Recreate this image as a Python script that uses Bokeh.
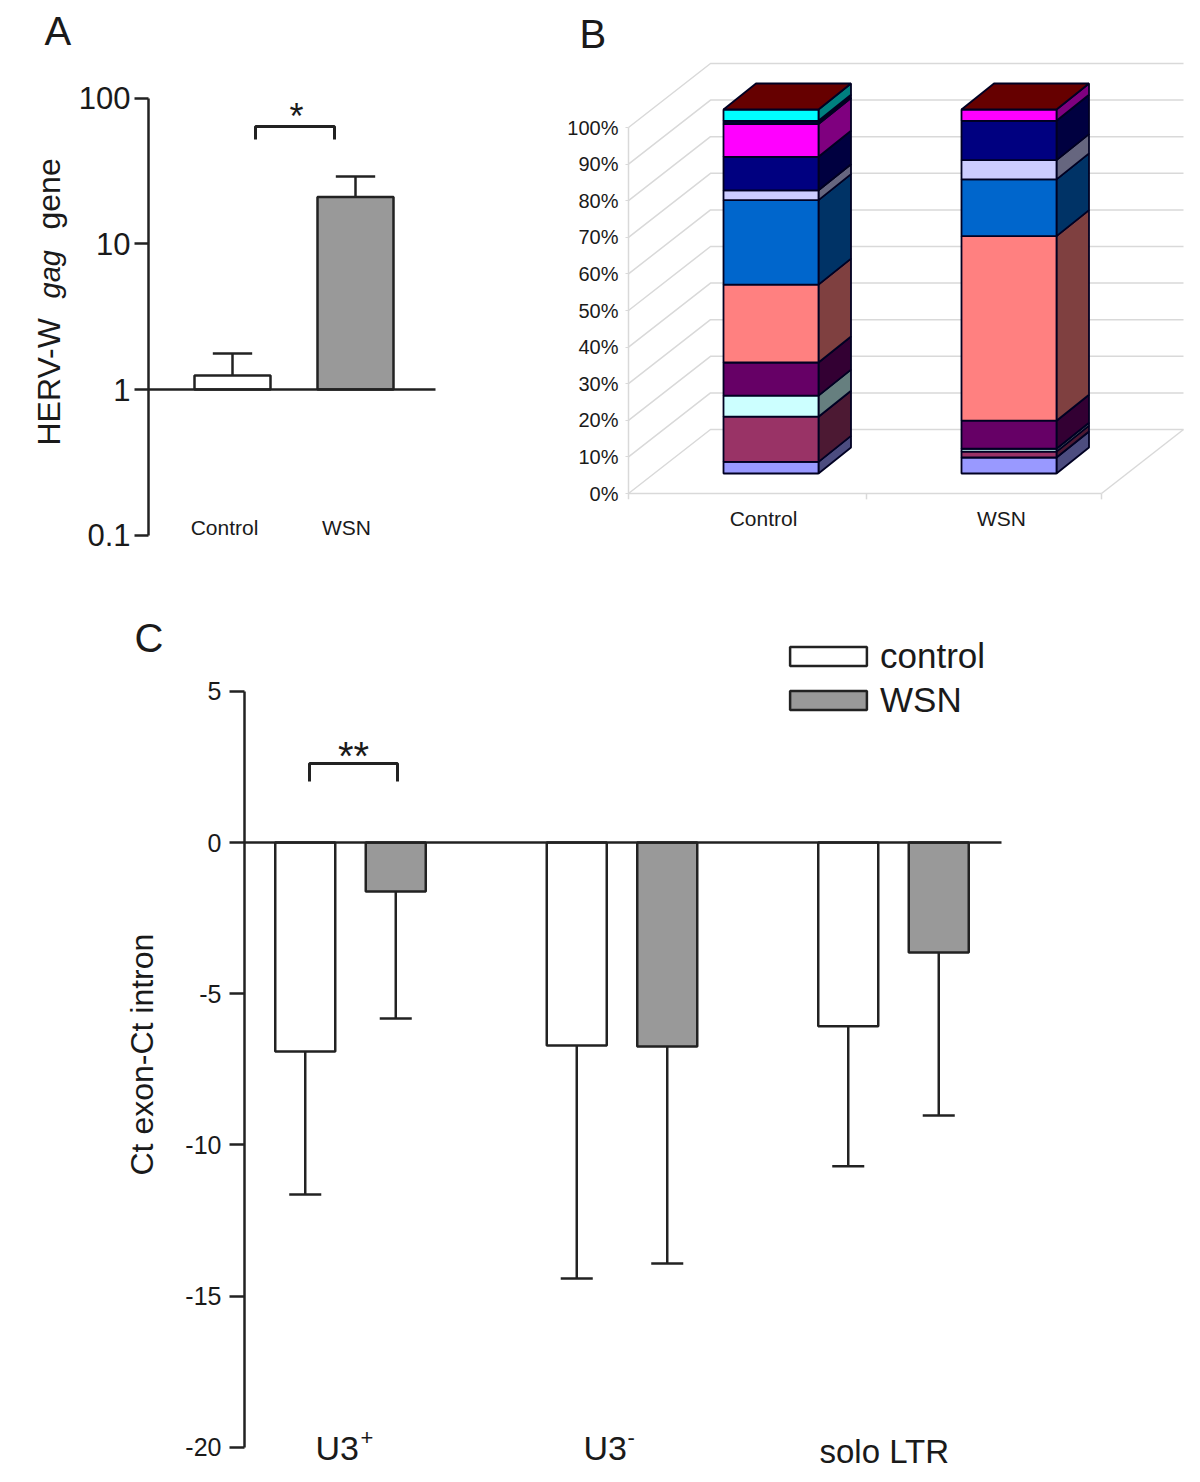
from bokeh.plotting import figure
from bokeh.layouts import column, row
from bokeh.models import FixedTicker, Legend, LegendItem, LinearAxis, LogAxis, Range1d
from bokeh.core.properties import value
from bokeh.embed import file_html
from bokeh.resources import INLINE
import math

FONT = "Liberation Sans"
INK = "#222222"

# ---------- data ----------
a_categories = ["Control", "WSN"]
a_means = [1.25, 21.0]
a_upper = [1.77, 29.0]
a_ticks = [0.1, 1, 10, 100]

b_categories = ["Control", "WSN"]
b_colors = ["#9999ff", "#993366", "#ccffff", "#660066", "#ff8080", "#0066cc",
            "#ccccff", "#000080", "#ff00ff", "#000033", "#00ffff"]
b_control = [3.2, 12.4, 5.8, 9.1, 21.4, 23.2, 2.7, 9.2, 9.0, 0.9, 3.1]
b_wsn = [4.4, 1.6, 0.8, 7.7, 50.7, 15.6, 5.3, 10.8, 3.1, 0.0, 0.0]
b_ticks = [0, 10, 20, 30, 40, 50, 60, 70, 80, 90, 100]

c_groups = ["U3", "U3", "solo LTR"]
c_control = [-6.91, -6.71, -6.08]
c_wsn = [-1.62, -6.75, -3.64]
c_control_low = [-11.64, -14.42, -10.71]
c_wsn_low = [-5.82, -13.92, -9.03]
c_ticks = [5, 0, -5, -10, -15, -20]


def base_fig(w, h, xr, yr, **kw):
    p = figure(width=w, height=h, x_range=xr, y_range=yr, output_backend="svg",
               toolbar_location=None, x_axis_location=None, y_axis_location=None,
               min_border=0, min_border_left=0, min_border_right=0,
               min_border_top=0, min_border_bottom=0, outline_line_color=None,
               background_fill_color="white", border_fill_color="white", **kw)
    p.xgrid.visible = False
    p.ygrid.visible = False
    return p


def txt(p, x, y, s, size, align="left", baseline="middle", angle=0, style="normal", color="#1a1a1a"):
    p.text([x], [y], text=[s], text_font=value(FONT), text_font_size=f"{size}px",
           text_align=align, text_baseline=baseline, angle=angle,
           text_font_style=style, text_color=color)


# ---------- Panel A ----------
ax = lambda px: (px - 232) / 123
ay = lambda py: 10 ** ((389 - py) / 145.67)
pa = base_fig(560, 560, Range1d(ax(0), ax(560)), Range1d(ay(560), ay(0)), y_axis_type="log")
axis_a = LogAxis(fixed_location=ax(148), bounds=(0.1, 100), ticker=FixedTicker(ticks=a_ticks),
                 major_label_overrides={0.1: "0.1", 1: "1", 10: "10", 100: "100"},
                 axis_line_color=INK, axis_line_width=2.5,
                 major_tick_line_color=INK, major_tick_line_width=2.5,
                 major_tick_out=14, major_tick_in=0, minor_tick_line_color=None,
                 major_label_standoff=4, major_label_text_font=FONT,
                 major_label_text_font_size="31px", major_label_text_color="#1a1a1a")
pa.add_layout(axis_a, "left")
idx_a = list(range(len(a_categories)))
pa.vbar(x=idx_a, width=76 / 123, bottom=1, top=a_means, fill_color=["white", "#999999"],
        line_color=INK, line_width=2.5)
pa.segment(x0=idx_a, x1=idx_a, y0=a_means, y1=a_upper, line_color=INK, line_width=2.5)
pa.segment(x0=[i - 0.16 for i in idx_a], x1=[i + 0.16 for i in idx_a], y0=a_upper, y1=a_upper,
           line_color=INK, line_width=2.5)
pa.line([ax(148), ax(435)], [1, 1], line_color=INK, line_width=2.5)
pa.line([ax(255), ax(255), ax(334), ax(334)], [ay(139), ay(126), ay(126), ay(139)],
        line_color=INK, line_width=3)
txt(pa, ax(296), ay(116), "*", 36, "center", "alphabetic")
for c, px in zip(a_categories, [224, 346]):
    txt(pa, ax(px), ay(527), c, 21, "center")
txt(pa, ax(44), ay(30), "A", 40, "left", "alphabetic")
txt(pa, ax(48), ay(445), "HERV-W", 32, "left", "alphabetic", math.pi / 2)
txt(pa, ax(49), ay(298), "gag", 29, "left", "alphabetic", math.pi / 2, "italic")
txt(pa, ax(48), ay(229), "gene", 32, "left", "alphabetic", math.pi / 2)

# ---------- Panel B ----------
bx = lambda px: (px - 770.5) / 238
by = lambda py: (493 - py) / 3.66
pb = base_fig(630, 560, Range1d(bx(560), bx(1190)), Range1d(by(560), by(0)))
GRID = "#d9d9d9"
wall_dx, wall_dy = bx(710) - bx(628), 64 / 3.66
left = bx(628)
far = bx(1183)
floor_end = bx(1101)
pb.multi_line(xs=[[left, left + wall_dx, far] for _ in b_ticks],
              ys=[[t, t + wall_dy, t + wall_dy] for t in b_ticks],
              line_color=GRID, line_width=1.5)
pb.line([floor_end, far], [0, wall_dy], line_color=GRID, line_width=1.5)
pb.line([left, floor_end], [0, 0], line_color=GRID, line_width=1.5)
tick_x = [left, bx(866), floor_end]
pb.segment(x0=tick_x, x1=tick_x, y0=[0, 0, 0], y1=[-1.6, -1.6, -1.6], line_color=GRID, line_width=1.5)
axis_by = LinearAxis(fixed_location=left, bounds=(0, 100), ticker=FixedTicker(ticks=b_ticks),
                     major_label_overrides={t: f"{t}%" for t in b_ticks},
                     axis_line_color=GRID, axis_line_width=1.5, major_tick_line_color=GRID,
                     major_tick_out=3, major_tick_in=0, minor_tick_line_color=None,
                     major_label_standoff=7, major_label_text_font=FONT,
                     major_label_text_font_size="20px", major_label_text_color="#1a1a1a")
pb.add_layout(axis_by, "left")


def darker(h):
    return "#" + "".join(f"{int(h[i:i+2], 16) // 2:02x}" for i in (1, 3, 5))


bar_w = 95 / 238
dep_x = 32.5 / 238
dep_y = 26 / 3.66
base = (493 - 473) / 3.66
scale = 364 / 366
for slot, vals in enumerate([b_control, b_wsn]):
    x0, x1 = slot - bar_w / 2, slot + bar_w / 2
    y = base
    fxs, fys, fcs = [], [], []
    for v, col in zip(vals, b_colors):
        if v <= 0:
            continue
        y2 = y + v * scale
        fxs += [[x1, x1 + dep_x, x1 + dep_x, x1], [x0, x1, x1, x0]]
        fys += [[y, y + dep_y, y2 + dep_y, y2], [y, y, y2, y2]]
        fcs += [darker(col), col]
        y = y2
    fxs.append([x0, x1, x1 + dep_x, x0 + dep_x])
    fys.append([y, y, y + dep_y, y + dep_y])
    fcs.append("#660000")
    pb.patches(xs=fxs, ys=fys, fill_color=fcs, line_color="#000022", line_width=1.8)
    txt(pb, [bx(763), bx(1001)][slot], by(518), b_categories[slot], 21, "center")
txt(pb, bx(579), by(33), "B", 40, "left", "alphabetic")

# ---------- Panel C ----------
cx = lambda px: (px - 350) / 271.5
cy = lambda py: (842 - py) / 30.24
pc = base_fig(1190, 920, Range1d(cx(0), cx(1190)), Range1d(cy(1480), cy(560)))
axis_c = LinearAxis(fixed_location=cx(244), bounds=(-20, 5), ticker=FixedTicker(ticks=c_ticks),
                    major_label_overrides={t: str(t) for t in c_ticks},
                    axis_line_color=INK, axis_line_width=2.5, major_tick_line_color=INK,
                    major_tick_line_width=2.5, major_tick_out=15, major_tick_in=0,
                    minor_tick_line_color=None, major_label_standoff=8,
                    major_label_text_font=FONT, major_label_text_font_size="25px",
                    major_label_text_color="#1a1a1a")
pc.add_layout(axis_c, "left")
off = 45.25 / 271.5
xc = [i - off for i in range(3)]
xw = [i + off for i in range(3)]
bw = 60 / 271.5
r_c = pc.vbar(x=xc, width=bw, bottom=0, top=c_control, fill_color="white", line_color=INK, line_width=2.5)
r_w = pc.vbar(x=xw, width=bw, bottom=0, top=c_wsn, fill_color="#999999", line_color=INK, line_width=2.5)
for xs, tops, lows in [(xc, c_control, c_control_low), (xw, c_wsn, c_wsn_low)]:
    pc.segment(x0=xs, x1=xs, y0=tops, y1=lows, line_color=INK, line_width=2.5)
    pc.segment(x0=[x - 0.059 for x in xs], x1=[x + 0.059 for x in xs], y0=lows, y1=lows,
               line_color=INK, line_width=2.5)
pc.line([cx(244), cx(1001)], [0, 0], line_color=INK, line_width=2.5)
pc.line([cx(309), cx(309), cx(397), cx(397)], [cy(781), cy(763), cy(763), cy(781)],
        line_color=INK, line_width=3)
txt(pc, cx(353), cy(755), "**", 40, "center", "alphabetic")
txt(pc, cx(134), cy(637), "C", 40, "left", "alphabetic")
txt(pc, cx(141), cy(1175), "Ct exon-Ct intron", 32, "left", "alphabetic", math.pi / 2)
txt(pc, cx(315), cy(1447), c_groups[0], 34, "left", "alphabetic")
txt(pc, cx(360), cy(1437), "+", 22, "left", "alphabetic")
txt(pc, cx(583), cy(1447), c_groups[1], 34, "left", "alphabetic")
txt(pc, cx(627), cy(1437), "-", 22, "left", "alphabetic")
txt(pc, cx(819), cy(1451), c_groups[2], 33, "left", "alphabetic")
legend = Legend(items=[LegendItem(label="control", renderers=[r_c]),
                       LegendItem(label="WSN", renderers=[r_w])],
                location=(780, 760), orientation="vertical", background_fill_alpha=0,
                border_line_color=None, glyph_width=96, glyph_height=24, label_standoff=4,
                label_text_font=FONT, label_text_font_size="35px", label_text_color="#1a1a1a",
                padding=0, margin=0, spacing=4)
pc.add_layout(legend, "center")

layout = column(row(pa, pb, spacing=0), pc, spacing=0)
open("out.html", "w").write(file_html(layout, INLINE))
